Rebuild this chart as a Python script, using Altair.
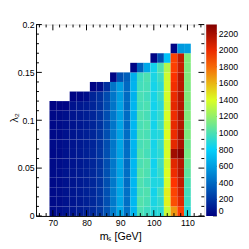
import altair as alt
import pandas as pd

# bin centres in m_S [GeV] (bin width 2 GeV), rows in lambda_2 (bin height 0.01)
x_centers = [70, 72, 74, 76, 78, 80, 82, 84, 86, 88, 90, 92, 94, 96, 98, 100, 102, 104, 106, 108, 110]

# column values, bottom row (lambda_2 = 0..0.01) first
col70 = [45, 40, 42, 38, 44, 40, 36, 42, 38, 35, 30, 12]
col72 = [55, 50, 52, 48, 55, 50, 46, 50, 45, 44, 40, 15]
col74 = [75, 70, 72, 68, 74, 66, 70, 64, 68, 62, 58, 20]
col76 = [85, 80, 84, 78, 82, 76, 80, 74, 78, 72, 75, 68, 14]
col78 = [105, 100, 104, 98, 102, 96, 100, 94, 98, 92, 95, 90, 25]
col80 = [125, 120, 124, 118, 122, 115, 120, 112, 118, 110, 114, 108, 50]
col82 = [155, 150, 152, 148, 150, 145, 148, 142, 146, 140, 142, 138, 135, 15]
col84 = [210, 200, 205, 198, 202, 195, 200, 192, 196, 190, 194, 188, 185, 55]
col86 = [310, 300, 305, 298, 302, 295, 300, 292, 296, 290, 294, 288, 285, 180]
col88 = [470, 460, 465, 455, 460, 450, 458, 448, 455, 445, 450, 442, 446, 440, 20]
col90 = [640, 630, 625, 635, 620, 630, 615, 625, 610, 620, 605, 615, 600, 590, 300]
col92 = [430, 420, 425, 415, 420, 410, 418, 405, 412, 400, 408, 398, 405, 400, 360]
col94 = [690, 700, 680, 695, 685, 700, 675, 690, 680, 695, 670, 685, 675, 680, 665, 20]
col96 = [1000, 1020, 990, 1010, 1030, 995, 1015, 985, 1005, 990, 1010, 980, 995, 975, 960, 370]
col98 = [960, 990, 1010, 970, 1000, 1020, 980, 1005, 990, 1015, 985, 1000, 970, 990, 1005, 640]
col100 = [880, 860, 840, 870, 850, 830, 860, 845, 870, 840, 855, 835, 850, 845, 860, 840, 20]
col102 = [900, 920, 950, 880, 930, 960, 910, 940, 890, 950, 920, 900, 940, 910, 950, 1000, 300]
col104 = [1350, 1440, 1450, 1380, 1400, 1370, 1390, 1380, 1400, 1370, 1390, 1360, 1380, 1370, 1360, 1290, 740]
col106 = [1680, 1870, 1900, 1940, 1990, 2030, 2220, 2020, 2000, 2010, 1990, 2020, 2000, 1980, 1950, 1910, 1900, 20]
col108 = [1920, 2030, 2080, 2120, 2150, 2150, 2300, 2180, 2200, 2160, 2170, 2150, 2160, 2140, 2150, 2100, 2120, 580]
col110 = [900, 950, 970, 1000, 1050, 1080, 1120, 1100, 1140, 1120, 1150, 1130, 1150, 1140, 1150, 1145, 1150, 600]

columns = [col70, col72, col74, col76, col78, col80, col82, col84, col86, col88, col90,
           col92, col94, col96, col98, col100, col102, col104, col106, col108, col110]

x_major = [70, 80, 90, 100, 110]
x_minor = [66, 68, 72, 74, 76, 78, 82, 84, 86, 88, 92, 94, 96, 98, 102, 104, 106, 108, 112, 114]
y_major = [0, 0.05, 0.1, 0.15, 0.2]
y_minor = [0.01, 0.02, 0.03, 0.04, 0.06, 0.07, 0.08, 0.09, 0.11, 0.12, 0.13, 0.14,
           0.16, 0.17, 0.18, 0.19]
z_labels = [0, 200, 400, 600, 800, 1000, 1200, 1400, 1600, 1800, 2000, 2200]
z_max = 2310
palette_stops = [0.0, 0.34, 0.61, 0.84, 1.0]
palette_colors = ["#000082", "#00cfff", "#deff1f", "#ff3300", "#820000"]

rows = []
for c, vals in zip(x_centers, columns):
    for j, v in enumerate(vals):
        rows.append({"x0": c - 1, "x1": c + 1, "y0": round(j * 0.01, 3),
                     "y1": round((j + 1) * 0.01, 3), "z": v})
df = pd.DataFrame(rows)

W, H = 174, 198
BAR_X, BAR_W = 176, 11
FONT = "Liberation Sans"
xs = alt.Scale(domain=[65, 115], nice=False, zero=False)
ys = alt.Scale(domain=[0, 0.2], nice=False, zero=False)
zs = alt.Scale(domain=[0, z_max], nice=False, zero=False)

x_axis = alt.Axis(
    values=x_major, format="d", title="mₛ [GeV]", grid=False, ticks=False, tickSize=0,
    labelPadding=3, labelFontSize=9, labelFont=FONT, labelColor="black",
    titleFont=FONT, titleFontSize=11, titleFontWeight="normal", titleColor="black",
    titleBaseline="alphabetic", titleY=24, domainColor="black", zindex=1,
    labelFlush=False)
y_axis = alt.Axis(
    values=y_major, format="~g", title="λ₂", grid=False, ticks=False, tickSize=0,
    labelPadding=2, labelFontSize=9, labelFont=FONT, labelColor="black",
    titleFont=FONT, titleFontSize=11, titleFontWeight="normal", titleColor="black",
    titleBaseline="alphabetic", titleX=-19, titleY=96, domainColor="black", zindex=1,
    labelFlush=False)

heat = alt.Chart(df).mark_rect(strokeWidth=0).encode(
    x=alt.X("x0:Q", scale=xs, axis=x_axis),
    x2="x1:Q",
    y=alt.Y("y0:Q", scale=ys, axis=y_axis),
    y2="y1:Q",
    color=alt.Color("z:Q", scale=alt.Scale(
        domain=[s * z_max for s in palette_stops], range=palette_colors, interpolate="rgb"),
        legend=alt.Legend(
            title=None, orient="none", legendX=BAR_X, legendY=0, direction="vertical",
            gradientLength=H, gradientThickness=BAR_W, gradientStrokeWidth=0,
            values=z_labels, format="d", labelFontSize=9, labelFont=FONT,
            labelColor="black", labelOffset=2, labelOverlap=False,
            labelBaseline="middle", padding=0)),
)

def xticks(vals, length):
    d = pd.DataFrame({"v": vals})
    bottom = alt.Chart(d).mark_rule(color="black", strokeWidth=1).encode(
        x=alt.X("v:Q", scale=xs, axis=x_axis), y=alt.value(H), y2=alt.value(H - length))
    top = alt.Chart(d).mark_rule(color="black", strokeWidth=1).encode(
        x=alt.X("v:Q", scale=xs, axis=x_axis), y=alt.value(0), y2=alt.value(length))
    return [bottom, top]

def yticks(vals, length):
    d = pd.DataFrame({"v": vals})
    left = alt.Chart(d).mark_rule(color="black", strokeWidth=1).encode(
        y=alt.Y("v:Q", scale=ys, axis=y_axis), x=alt.value(0), x2=alt.value(length))
    right = alt.Chart(d).mark_rule(color="black", strokeWidth=1).encode(
        y=alt.Y("v:Q", scale=ys, axis=y_axis), x=alt.value(W), x2=alt.value(W - length))
    return [left, right]

main = alt.layer(*([heat] + xticks(x_major, 6) + xticks(x_minor, 3)
                   + yticks(y_major, 6) + yticks(y_minor, 3)))

# small tick marks on the colour bar's right edge
zdf = pd.DataFrame({"v": z_labels})
z_ticks = alt.Chart(zdf).mark_rule(color="#222222", strokeWidth=1).encode(
    y=alt.Y("v:Q", scale=zs, axis=None),
    x=alt.value(BAR_X + BAR_W - 4),
    x2=alt.value(BAR_X + BAR_W),
)

chart = alt.layer(main, z_ticks).resolve_scale(y="independent").properties(
    width=W, height=H,
    autosize=alt.AutoSizeParams(type="none"),
    padding={"left": 29, "top": 13, "right": 38, "bottom": 28},
).configure_view(stroke="black", strokeWidth=1).configure(background="white")

chart.save("out.html", embed_options={"renderer": "svg", "actions": False})
